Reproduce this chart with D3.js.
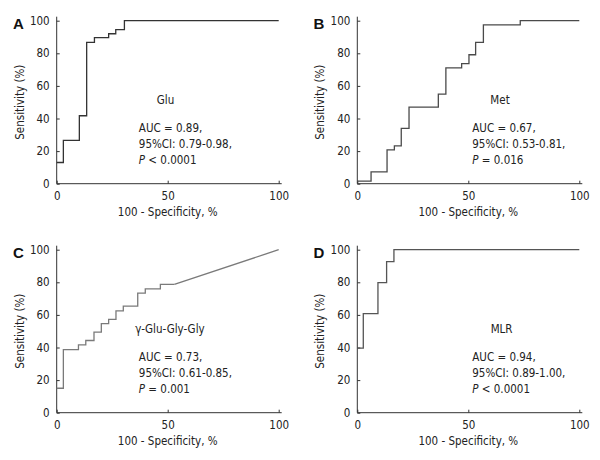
<!DOCTYPE html>
<html><head><meta charset="utf-8">
<script src="https://cdn.jsdelivr.net/npm/d3@7"></script>
<style>
body{margin:0;background:#fff;}
svg{display:block;font-family:"DejaVu Sans Condensed","DejaVu Sans",sans-serif;}
</style></head>
<body><svg id="chart" width="600" height="460"></svg>
<script>
// ---- data (ROC step corners: 100 - specificity %, sensitivity %) ----
const panelLetters = ["A","B","C","D"];
const markerNames = ["Glu","Met","\u03b3-Glu-Gly-Gly","MLR"];
const aucText = ["AUC = 0.89,","AUC = 0.67,","AUC = 0.73,","AUC = 0.94,"];
const ciText = ["95%CI: 0.79-0.98,","95%CI: 0.53-0.81,","95%CI: 0.61-0.85,","95%CI: 0.89-1.00,"];
const pOp = ["<","=","=","<"];
const pVal = ["0.0001","0.016","0.001","0.0001"];

const gluFpr = [0,3,10.2,13.5,17,23.4,26.6,30.5,100];
const gluTpr = [13,26.6,41.7,86.7,89.6,92,94.5,100,100];
const metFpr = [0,6.2,13.4,16.7,19.8,23.3,36.5,39.9,47,50.3,53.3,56.8,73.4,100];
const metTpr = [1.6,7.2,20.7,23.2,33.9,47,55,71,73.7,79.1,86.7,97.5,100,100];
const gggFpr = [0,3,9.8,13.1,16.8,20.1,23.4,26.7,30,36.5,39.9,46.7,53];
const gggTpr = [15,38.7,41.6,44.3,49.4,54.7,57.2,62.5,65.4,73.4,76,78.7,78.7];
const gggTailFpr = [53,100];
const gggTailTpr = [78.7,100];
const mlrFpr = [0,2.7,9.3,13.2,16.5,100];
const mlrTpr = [39.6,60.8,79.8,92.7,100,100];

const xTicks = [0,50,100];
const yTicks = [0,20,40,60,80,100];

const stepSets = [[gluFpr,gluTpr],[metFpr,metTpr],[gggFpr,gggTpr],[mlrFpr,mlrTpr]];
const tailSets = [null,null,[gggTailFpr,gggTailTpr],null];

// ---- layout ----
const panelOrigin = [[0,0],[300.6,0],[0,229],[300.6,229]];
const lineColors = ["#333","#4a4a4a","#7a7a7a","#555"];
const labelPos = [ // annotation anchors in data units
  {nx:49, ax:37}, {nx:64.3, ax:51.8}, {nx:51, ax:37}, {nx:65, ax:51.8}
];
const axisCol = "#333";
const fs = 11.5;

const svg = d3.select("#chart");
const plotL = 56.7, plotW = 222, plotT = 20.7, plotH = 163;

for (let i=0;i<4;i++){
  const [ox,oy] = panelOrigin[i];
  const g = svg.append("g").attr("transform",`translate(${ox},${oy})`);
  const x = d3.scaleLinear().domain([0,100]).range([plotL, plotL+plotW]);
  const y = d3.scaleLinear().domain([0,100]).range([plotT+plotH, plotT]);

  // axes
  const xa = g.append("g").attr("transform",`translate(0,${plotT+plotH})`)
    .call(d3.axisBottom(x).tickValues(xTicks).tickSizeInner(-3).tickSizeOuter(0).tickPadding(6));
  const ya = g.append("g").attr("transform",`translate(${plotL},0)`)
    .call(d3.axisLeft(y).tickValues(yTicks).tickSizeInner(-3).tickSizeOuter(0).tickPadding(7));
  [xa,ya].forEach(a=>{
    a.select(".domain").remove();
    a.selectAll(".tick line").attr("stroke",axisCol);
    a.selectAll(".tick text").attr("fill","#222").attr("font-size",fs)
      .attr("font-family",'"DejaVu Sans Condensed","DejaVu Sans",sans-serif');
  });
  xa.selectAll(".tick text").attr("y",8).attr("dy","0.71em");
  // axis lines (slightly extended as in reference)
  g.append("line").attr("x1",plotL).attr("x2",plotL+plotW+3)
    .attr("y1",plotT+plotH).attr("y2",plotT+plotH).attr("stroke",axisCol).attr("stroke-width",1);
  g.append("line").attr("x1",plotL).attr("x2",plotL)
    .attr("y1",plotT-4).attr("y2",plotT+plotH).attr("stroke",axisCol).attr("stroke-width",1);

  // axis titles
  g.append("text").attr("x",plotL+plotW/2).attr("y",plotT+plotH+32.5)
    .attr("text-anchor","middle").attr("font-size",fs).attr("fill","#222")
    .text("100 - Specificity, %");
  g.append("text").attr("transform",`translate(23.5,${plotT+plotH/2}) rotate(-90)`)
    .attr("text-anchor","middle").attr("font-size",fs).attr("fill","#222")
    .text("Sensitivity (%)");

  // panel letter
  g.append("text").attr("x",13).attr("y",28.5).attr("font-size",15).attr("font-weight","bold")
    .attr("font-family",'"Liberation Sans",Arial,sans-serif')
    .attr("fill","#111").text(panelLetters[i]);

  // ROC curve
  const [fx,fy] = stepSets[i];
  const pts = fx.map((v,k)=>[v,fy[k]]);
  const stepLine = d3.line().x(d=>x(d[0])).y(d=>y(d[1])).curve(d3.curveStepAfter);
  g.append("path").attr("d",stepLine(pts)).attr("fill","none")
    .attr("stroke",lineColors[i]).attr("stroke-width",1.3);
  if (tailSets[i]){
    const [tx,ty] = tailSets[i];
    const tp = tx.map((v,k)=>[v,ty[k]]);
    const lin = d3.line().x(d=>x(d[0])).y(d=>y(d[1]));
    g.append("path").attr("d",lin(tp)).attr("fill","none")
      .attr("stroke",lineColors[i]).attr("stroke-width",1.3);
  }

  // annotations
  const lp = labelPos[i];
  const nameY = plotT + 83.5;
  g.append("text").attr("x",x(lp.nx)).attr("y",nameY).attr("text-anchor","middle")
    .attr("font-size",fs).attr("fill","#222").text(markerNames[i]);
  const ax = x(lp.ax);
  const rows = [aucText[i], ciText[i]];
  rows.forEach((t,k)=>{
    g.append("text").attr("x",ax).attr("y",nameY+28+k*16).attr("font-size",fs)
      .attr("fill","#222").text(t);
  });
  const pt = g.append("text").attr("x",ax).attr("y",nameY+28+32).attr("font-size",fs).attr("fill","#222");
  pt.append("tspan").attr("font-style","italic").text("P");
  pt.append("tspan").text(" " + pOp[i] + " " + pVal[i]);
}
</script></body></html>
